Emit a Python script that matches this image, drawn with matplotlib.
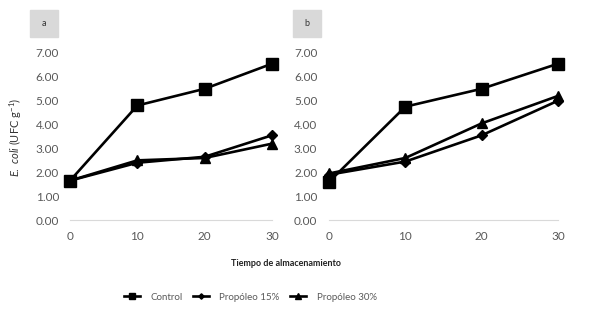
import matplotlib
matplotlib.use('Agg')
import matplotlib.pyplot as plt
from matplotlib.patches import Rectangle

plt.rcParams['font.family'] = ['Lato', 'DejaVu Sans']
plt.rcParams['mathtext.fontset'] = 'custom'
plt.rcParams['mathtext.it'] = 'Lato:italic'
plt.rcParams['mathtext.rm'] = 'Lato'

dias = [0, 10, 20, 30]

# panel a
control_a = [1.65, 4.80, 5.50, 6.55]
prop15_a = [1.65, 2.40, 2.65, 3.55]
prop30_a = [1.65, 2.50, 2.60, 3.20]

# panel b
control_b = [1.60, 4.75, 5.50, 6.55]
prop15_b = [1.90, 2.45, 3.55, 5.00]
prop30_b = [1.95, 2.60, 4.05, 5.20]

yticks = [0, 1, 2, 3, 4, 5, 6, 7]
gris = '#595959'

fig = plt.figure(figsize=(5.89, 3.11), dpi=100)
ax1 = fig.add_axes([0.1075, 0.2926, 0.3657, 0.537])
ax2 = fig.add_axes([0.5457, 0.2926, 0.4146, 0.537])


def dibujar(ax, c, p15, p30):
    l1, = ax.plot(dias, c, color='black', lw=1.9, marker='s', ms=8.5,
                  clip_on=False, zorder=3, label='Control')
    l2, = ax.plot(dias, p15, color='black', lw=1.9, marker='D', ms=5.5,
                  clip_on=False, zorder=3, label='Propóleo 15%')
    l3, = ax.plot(dias, p30, color='black', lw=1.9, marker='^', ms=7.5,
                  clip_on=False, zorder=3, label='Propóleo 30%')
    ax.set_xlim(-1, 31)
    ax.set_ylim(0, 7)
    ax.set_xticks(dias)
    ax.set_yticks(yticks)
    ax.set_yticklabels(['%.2f' % v for v in yticks])
    for s in ['top', 'right', 'left']:
        ax.spines[s].set_visible(False)
    ax.spines['bottom'].set_color('#d9d9d9')
    ax.spines['bottom'].set_bounds(0, 30)
    ax.tick_params(length=0, labelsize=8.5, labelcolor=gris)
    ax.tick_params(axis='x', pad=8)
    ax.tick_params(axis='y', pad=3)
    return [l1, l2, l3]


handles = dibujar(ax1, control_a, prop15_a, prop30_a)
dibujar(ax2, control_b, prop15_b, prop30_b)

# etiquetas de panel
for x0, txt in [(30, 'a'), (293, 'b')]:
    fig.patches.append(Rectangle((x0 / 589, 1 - 37 / 311), 28 / 589, 27 / 311,
                                 transform=fig.transFigure, color='#d9d9d9'))
    fig.text((x0 + 14) / 589, 1 - 23.5 / 311, txt, ha='center', va='center',
             fontsize=6.5, color='#333333')

fig.text(0.027, 0.56, r'$\mathit{E.\ coli}$ (UFC g$^{-1}$)', rotation=90,
         ha='center', va='center', fontsize=8, color='#333333')
fig.text(0.486, 0.154, 'Tiempo de almacenamiento', ha='center', va='center',
         fontsize=6.5, fontweight='bold', color='#222222')

fig.legend(handles=handles, loc='center', bbox_to_anchor=(0.425, 0.045),
           ncol=3, frameon=False, fontsize=7, handlelength=1.6,
           handletextpad=1.1, columnspacing=1.1, markerscale=0.5,
           labelcolor=gris)

fig.savefig('out.png', dpi=100)
